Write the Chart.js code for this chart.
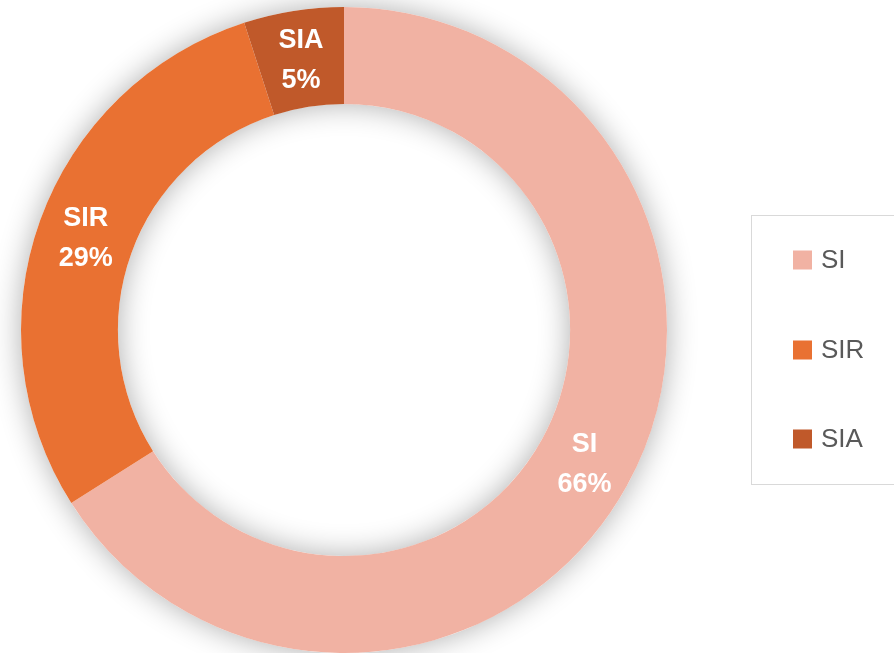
<!DOCTYPE html>
<html>
<head>
<meta charset="utf-8">
<script src="https://cdn.jsdelivr.net/npm/chart.js@4"></script>
<style>
  html, body { margin: 0; padding: 0; background: #fff; }
  #wrap { width: 894px; height: 653px; position: relative; }
</style>
</head>
<body>
<div id="wrap"><canvas id="grafica"></canvas></div>
<script>
const categorias = ['SI', 'SIR', 'SIA'];
const porcentajes = [66, 29, 5];
const colores = ['#F1B2A3', '#E97132', '#C0592A'];

// sombra suave detras del anillo
const sombra = {
  id: 'sombra',
  beforeDatasetsDraw(chart) {
    const arc = chart.getDatasetMeta(0).data[0];
    if (!arc) return;
    const { x, y, innerRadius, outerRadius } = arc;
    const ctx = chart.ctx;
    ctx.save();
    ctx.shadowColor = 'rgba(0,0,0,0.32)';
    ctx.shadowBlur = 30;
    ctx.fillStyle = '#fff';
    ctx.beginPath();
    ctx.arc(x, y, outerRadius, 0, Math.PI * 2);
    ctx.arc(x, y, innerRadius, 0, Math.PI * 2, true);
    ctx.fill();
    ctx.restore();
  }
};

// etiquetas dentro de cada sector
const etiquetas = {
  id: 'etiquetas',
  afterDatasetsDraw(chart) {
    const ctx = chart.ctx;
    const meta = chart.getDatasetMeta(0);
    ctx.save();
    ctx.fillStyle = '#fff';
    ctx.font = 'bold 27px "Liberation Sans", Arial, sans-serif';
    ctx.textAlign = 'center';
    ctx.textBaseline = 'middle';
    meta.data.forEach((arc, i) => {
      const p = arc.getCenterPoint();
      ctx.fillText(chart.data.labels[i], p.x, p.y - 18);
      ctx.fillText(chart.data.datasets[0].data[i] + '%', p.x, p.y + 22);
    });
    ctx.restore();
  }
};

// leyenda con recuadro
const leyenda = {
  id: 'leyenda',
  afterDraw(chart) {
    const ctx = chart.ctx;
    const ds = chart.data.datasets[0];
    ctx.save();
    ctx.fillStyle = '#fff';
    ctx.fillRect(751, 215, 150, 270);
    ctx.strokeStyle = '#d9d9d9';
    ctx.lineWidth = 1;
    ctx.strokeRect(751.5, 215.5, 160, 269);
    const ys = [260, 350, 439];
    ctx.font = '26px "Liberation Sans", Arial, sans-serif';
    ctx.textBaseline = 'middle';
    ctx.textAlign = 'left';
    chart.data.labels.forEach((lab, i) => {
      ctx.fillStyle = ds.backgroundColor[i];
      ctx.fillRect(793, ys[i] - 9.5, 19, 19);
      ctx.fillStyle = '#595959';
      ctx.fillText(lab, 821, ys[i] + 1);
    });
    ctx.restore();
  }
};

const ctx = document.getElementById('grafica').getContext('2d');
const chart = new Chart(ctx, {
  type: 'doughnut',
  data: {
    labels: categorias,
    datasets: [{
      data: porcentajes,
      backgroundColor: colores,
      borderWidth: 0,
      hoverOffset: 0
    }]
  },
  options: {
    responsive: true,
    maintainAspectRatio: false,
    animation: false,
    cutout: '70%',
    layout: { padding: { top: 7, right: 206, bottom: 0, left: 0 } },
    plugins: {
      legend: { display: false },
      tooltip: { enabled: false }
    }
  },
  plugins: [sombra, etiquetas, leyenda]
});
</script>
</body>
</html>
